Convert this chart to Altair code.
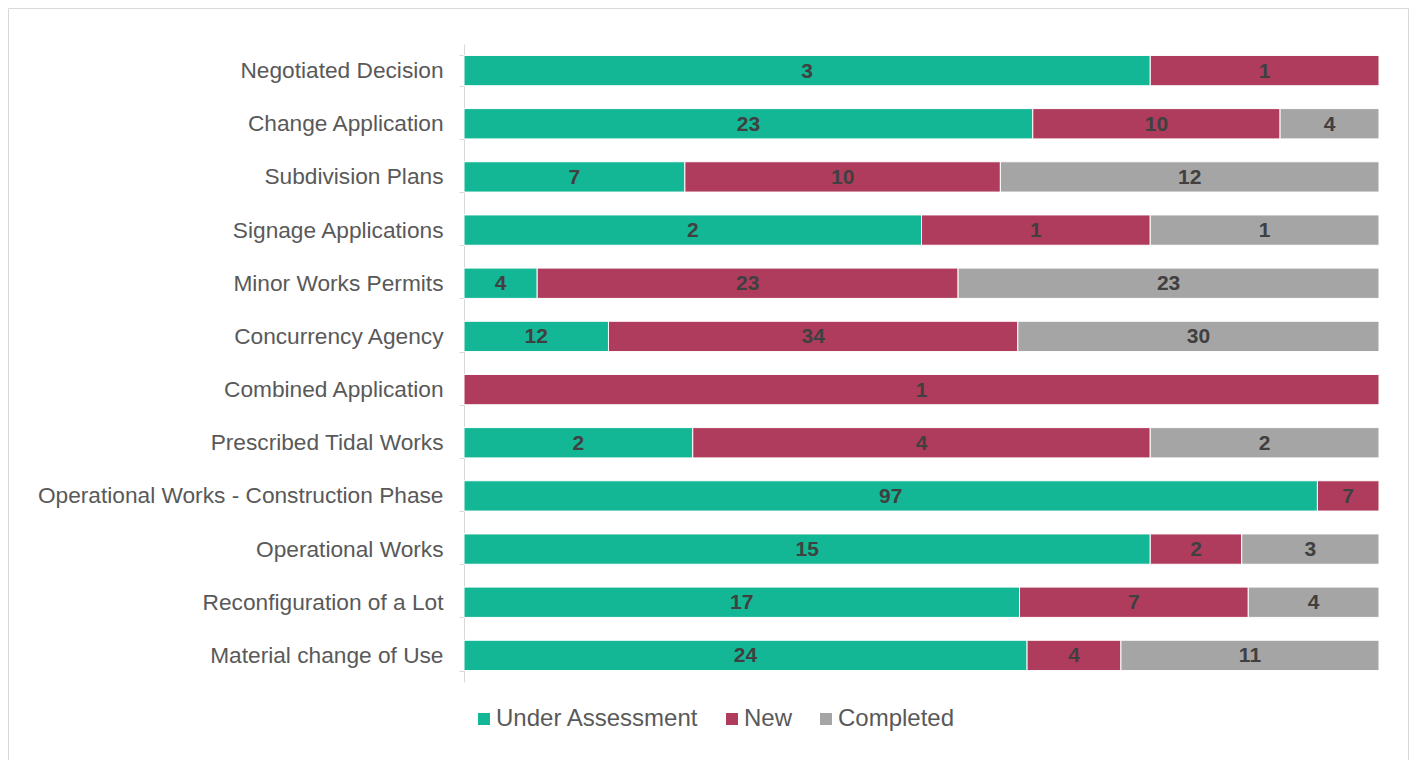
import altair as alt
import pandas as pd

categories = [
    "Negotiated Decision", "Change Application", "Subdivision Plans",
    "Signage Applications", "Minor Works Permits", "Concurrency Agency",
    "Combined Application", "Prescribed Tidal Works",
    "Operational Works - Construction Phase", "Operational Works",
    "Reconfiguration of a Lot", "Material change of Use",
]
under_assessment = [3, 23, 7, 2, 4, 12, 0, 2, 97, 15, 17, 24]
new = [1, 10, 10, 1, 23, 34, 1, 4, 7, 2, 7, 4]
completed = [0, 4, 12, 1, 23, 30, 0, 2, 0, 3, 4, 11]

series = ["Under Assessment", "New", "Completed"]
colors = ["#14b795", "#b03c5d", "#a5a5a5"]

rows = []
for i, c in enumerate(categories):
    for j, (s, vals) in enumerate(zip(series, [under_assessment, new, completed])):
        if vals[i] > 0:
            rows.append({"category": c, "status": s, "value": vals[i], "order": j})
df = pd.DataFrame(rows)

FONT = "Liberation Sans"

base = alt.Chart(df).transform_stack(
    stack="value", groupby=["category"], as_=["v0", "v1"],
    offset="normalize", sort=[alt.SortField("order")]
).transform_calculate(mid="(datum.v0 + datum.v1) / 2")

yenc = alt.Y(
    "category:N", sort=categories, title=None,
    scale=alt.Scale(paddingInner=0.43, paddingOuter=0.215),
    axis=alt.Axis(
        labelFont=FONT, labelFontSize=22.7, labelColor="#595959",
        labelPadding=16, tickBand="extent", tickSize=5, tickColor="#d9d9d9",
        domainColor="#d9d9d9", domainWidth=1, labelLimit=600,
    ),
)

bars = base.mark_bar(stroke="white", strokeWidth=1).encode(
    x=alt.X("v0:Q", scale=alt.Scale(domain=[0, 1], nice=False), axis=None),
    x2="v1:Q",
    y=yenc,
    color=alt.Color(
        "status:N",
        scale=alt.Scale(domain=series, range=colors),
        sort=series,
        legend=alt.Legend(
            title=None, orient="none", direction="horizontal",
            legendX=8, legendY=663, labelFont=FONT, labelFontSize=24,
            labelColor="#595959", symbolType="square", symbolSize=144,
            symbolStrokeWidth=0, labelOffset=0, columnPadding=21, padding=0,
            labelLimit=600,
        ),
    ),
)

labels = base.mark_text(
    font=FONT, fontSize=21, fontWeight="bold", color="#404040",
    align="center", baseline="middle", dy=1,
).encode(
    x=alt.X("mid:Q"),
    y=alt.Y("category:N", sort=categories),
    text=alt.Text("value:Q"),
)

border = alt.Chart(pd.DataFrame({"k": [0]})).mark_rect(
    fill=None, stroke="#d9d9d9", strokeWidth=1
).encode(
    x=alt.value(-455.5), x2=alt.value(944.5),
    y=alt.value(-35.5), y2=alt.value(760),
)

chart = alt.layer(border, bars, labels).properties(
    width=915, height=638,
    autosize=alt.AutoSizeParams(type="none"),
    padding={"left": 456, "top": 36, "right": 30, "bottom": 78},
).configure(background="white").configure_view(stroke=None)

chart.save("out.html", embed_options={"renderer": "svg", "actions": False})
